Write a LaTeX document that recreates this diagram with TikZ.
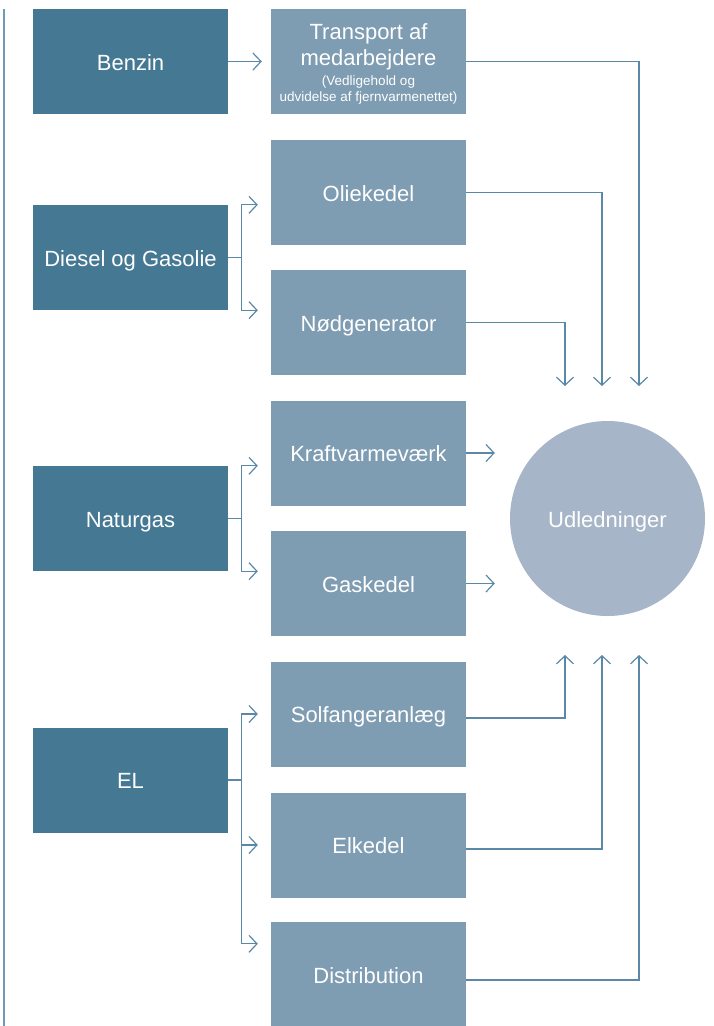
\documentclass[tikz,border=0pt]{standalone}
\usepackage{fontspec}
\setmainfont{Liberation Sans}
\usetikzlibrary{arrows.meta}
\definecolor{fuel}{HTML}{447893}
\definecolor{use}{HTML}{7E9CB2}
\definecolor{emis}{HTML}{A6B6C8}
\definecolor{conn}{HTML}{5B88A6}
\definecolor{rule}{HTML}{6E9CB8}
\newcommand{\bigtext}{\fontsize{22}{26}\selectfont}
\newcommand{\smalltext}{\fontsize{13.5}{16}\selectfont}
\tikzset{
  box/.style={minimum width=195pt, minimum height=105pt, inner sep=0pt, text=white,
    font=\bigtext, text height=17pt, text depth=0pt},
  fuelbox/.style={box, fill=fuel},
  usebox/.style={box, fill=use},
  arr/.style={draw=conn, line width=1.2pt,
    -{Straight Barb[length=8pt, width=17pt, line width=1.2pt]}},
  link/.style={draw=conn, line width=1.2pt},
}
\begin{document}
\begin{tikzpicture}[x=1pt, y=-1pt]
\useasboundingbox (0,0) rectangle (713,1026);

% vertical rule at the left margin
\draw[rule, line width=1.4pt] (4,9) -- (4,1026);

% energy sources
\node[fuelbox] (benzin)   at (130.5, 61.5) {Benzin};
\node[fuelbox] (diesel)   at (130.5,257.5) {Diesel og Gasolie};
\node[fuelbox] (naturgas) at (130.5,518.5) {Naturgas};
\node[fuelbox] (el)       at (130.5,780)   {EL};

% consumers
\node[fill=use, minimum width=195pt, minimum height=105pt, inner sep=0pt, text=white]
  (transport) at (368.5,61.5) {\vbox{\hsize=195pt\centering\kern5pt
    \bigtext Transport af\par medarbejdere\par\vspace{4pt}
    \smalltext (Vedligehold og\par udvidelse af fjernvarmenettet)\par}};
\node[usebox] (oliekedel) at (368.5,192.5) {Oliekedel};
\node[usebox] (nodgen)    at (368.5,322.5) {Nødgenerator};
\node[usebox] (kraft)     at (368.5,453)   {Kraftvarmeværk};
\node[usebox] (gaskedel)  at (368.5,583.5) {Gaskedel};
\node[usebox] (solfanger) at (368.5,714)   {Solfangeranlæg};
\node[usebox] (elkedel)   at (368.5,845)   {Elkedel};
\node[usebox] (distrib)   at (368.5,974.5) {Distribution};

% emissions
\node[circle, fill=emis, minimum size=195pt, inner sep=0pt, text=white,
      font=\bigtext, text height=17pt, text depth=0pt] (udl) at (607.5,518.5) {Udledninger};

% arrow ends above and below the circle
\coordinate (in1)  at (565,386);
\coordinate (in2)  at (602,386);
\coordinate (in3)  at (639,386);
\coordinate (out1) at (565,655);
\coordinate (out2) at (602,655);
\coordinate (out3) at (639,655);

% sources to consumers
\draw[arr, shorten >=9pt] (benzin.east) -- (transport.west |- benzin.east);

\draw[link] (diesel.east) -- ++(13,0) coordinate (dj);
\draw[arr, shorten >=13pt] (dj) |- (oliekedel.west |- diesel.north);
\draw[arr, shorten >=13pt] (dj) |- (nodgen.west |- diesel.south);

\draw[link] (naturgas.east) -- ++(13,0) coordinate (nj);
\draw[arr, shorten >=13pt] (nj) |- (kraft.west |- naturgas.north);
\draw[arr, shorten >=13pt] (nj) |- (gaskedel.west |- naturgas.south);

\draw[link] (el.east) -- ++(13,0) coordinate (ej);
\draw[arr, shorten >=13pt] (ej) |- (solfanger.west);
\draw[arr, shorten >=13pt] (ej) |- (elkedel.west);
\draw[arr, shorten >=13pt] (ej) |- ([yshift=-22pt]distrib.north west);

% consumers to emissions
\draw[arr] (transport.east) -| (in3);
\draw[arr] (oliekedel.east) -| (in2);
\draw[arr] (nodgen.east) -| (in1);
\draw[arr, shorten >=15pt] (kraft.east) -- (kraft.east -| udl.west);
\draw[arr, shorten >=15pt] (gaskedel.east) -- (gaskedel.east -| udl.west);
\draw[arr] ([yshift=-4pt]solfanger.east) -| (out1);
\draw[arr] ([yshift=-4pt]elkedel.east) -| (out2);
\draw[arr] ([yshift=-5.5pt]distrib.east) -| (out3);
\end{tikzpicture}
\end{document}
